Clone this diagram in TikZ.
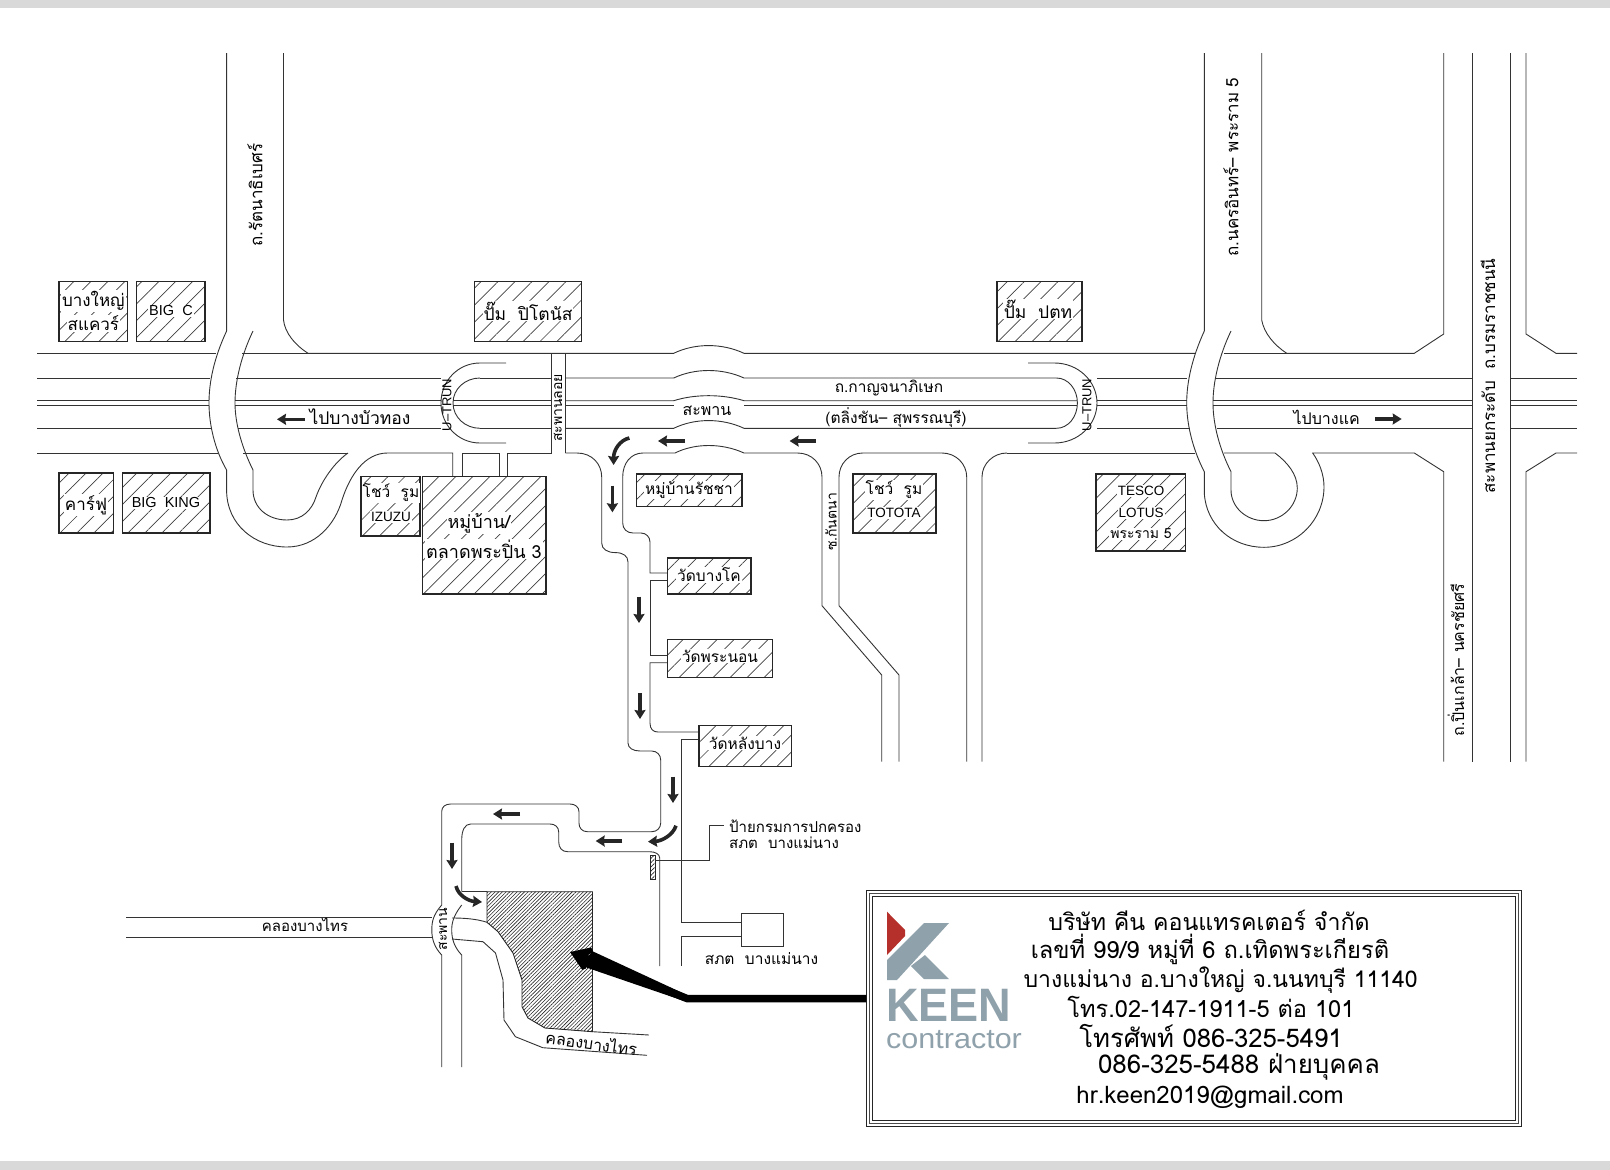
\documentclass[tikz,border=0pt]{standalone}
\usepackage{fontspec}
\usepackage{graphicx}
\setmainfont[Script=Thai]{Loma}
\newfontfamily\latinsans{Liberation Sans}
\usetikzlibrary{arrows.meta,patterns.meta}
\definecolor{keengray}{HTML}{8FA1AB}
\definecolor{keenred}{HTML}{B5302A}
\tikzset{
	road/.style={draw=black!80, line width=0.9pt},
	hatchbox/.style={draw=black!85, line width=1.1pt, pattern={Lines[angle=45,distance=12pt,line width=0.7pt]}, pattern color=black!75},
	sitelabel/.style={fill=white, inner sep=1pt, align=center, font=\fontsize{15.5}{18}\selectfont},
	latinlabel/.style={fill=white, inner sep=1pt, font=\latinsans\fontsize{14.5}{17}\selectfont},
	roadlabel/.style={inner sep=0pt, font=\fontsize{16}{20}\selectfont},
	smalllabel/.style={inner sep=0pt, font=\fontsize{14}{17}\selectfont},
	flowarrow/.style={-{Stealth[length=9pt,width=11pt,inset=1pt]}, line width=3.6pt, draw=black!85},
	infoline/.style={inner sep=0pt, font=\fontsize{24}{28}\selectfont}
}
\begin{document}
\begin{tikzpicture}[x=1pt,y=-1pt]

	\useasboundingbox (0,0) rectangle (1610,1170);
	\fill[black!15] (0,0) rectangle (1610,8);
	\fill[black!15] (0,1161) rectangle (1610,1170);

	\draw[road] (37,353.3) -- (216,353.3);
	\draw[road] (242,353.3) -- (308,353.3);
	\draw[road] (308,353.3) -- (673.7,353.3) .. controls (695,343) and (722,343) .. (744,353.3) -- (1195,353.3);
	\draw[road] (1224,353.3) -- (1286.7,353.3);
	\draw[road] (1286.7,353.3) -- (1414.3,353.3) -- (1443.7,334) -- (1443.7,53);
	\draw[road] (1577,353.3) -- (1556,353.3) -- (1526,334) -- (1526,53);

	\draw[road] (37,378) -- (209.5,378);
	\draw[road] (236,378) -- (441,378);
	\draw[road] (480,378) -- (551.6,378);
	\draw[road] (565.4,378) -- (673.7,378) .. controls (695,368) and (722,368) .. (744,378) -- (1056.5,378);
	\draw[road] (1097,378) -- (1187,378);
	\draw[road] (1215,378) -- (1472.7,378);
	\draw[road] (1510,378) -- (1577,378);

	\draw[road] (37,400.7) -- (209,400.7);
	\draw[road] (235,400.7) -- (441,400.7);
	\draw[road] (453,400.7) -- (551.6,400.7);
	\draw[road] (565.4,400.7) -- (673.7,400.7) .. controls (695,394) and (722,394) .. (744,400.7) -- (1077,400.7);
	\draw[road] (1097,400.7) -- (1186.7,400.7);
	\draw[road] (1213,400.7) -- (1472.7,400.7);
	\draw[road] (1510,400.7) -- (1577,400.7);

	\draw[road] (37,405.7) -- (209,405.7);
	\draw[road] (235,405.7) -- (441,405.7);
	\draw[road] (453,405.7) -- (551.6,405.7);
	\draw[road] (565.4,405.7) -- (673.7,405.7);
	\draw[road] (744,405.7) -- (1077,405.7);
	\draw[road] (1097,405.7) -- (1186.7,405.7);
	\draw[road] (1213,405.7) -- (1472.7,405.7);
	\draw[road] (1510,405.7) -- (1577,405.7);

	\draw[road] (37,428.3) -- (211,428.3);
	\draw[road] (238,428.3) -- (441,428.3);
	\draw[road] (480,428.3) -- (551.6,428.3);
	\draw[road] (565.4,428.3) -- (673.7,428.3) .. controls (695,418) and (722,418) .. (744,428.3) -- (1056.5,428.3);
	\draw[road] (1097,428.3) -- (1190,428.3);
	\draw[road] (1217,428.3) -- (1472.7,428.3);
	\draw[road] (1510,428.3) -- (1577,428.3);

	\draw[road] (37,453) -- (218,453);
	\draw[road] (243,453) -- (348,453);
	\draw[road] (507,476.7) -- (507,453) -- (551.6,453);
	\draw[road] (462,476.7) -- (462,453) -- (499,453) -- (499,476.7);
	\draw[road] (551.6,353.3) -- (551.6,453);
	\draw[road] (565.4,353.3) -- (565.4,453);

	\draw[road] (226.6,53) -- (226.6,331) .. controls (214,358) and (209,382) .. (209,403) .. controls (209,425) and (215,450) .. (226.6,470) -- (226.6,490) .. controls (226.6,525) and (255,547) .. (287,547) .. controls (315,547) and (335,525) .. (342,500) .. controls (350,475) and (365,453) .. (387.5,453) -- (452.7,453) -- (452.7,476.7);
	\draw[road] (253,331) .. controls (241,356) and (235,382) .. (235,403) .. controls (235,425) and (243,450) .. (253,470) -- (253,490) .. controls (253,508) and (268,520) .. (287,520) .. controls (302,520) and (312,510) .. (316,497) .. controls (322,480) and (335,462) .. (348,453);
	\draw[road] (283.5,53) -- (283.5,320) .. controls (285,333) and (295,345) .. (308,353.3);

	\draw[road] (506,363) -- (480,363) .. controls (458,363) and (441,381) .. (441,403) .. controls (441,425) and (458,443) .. (480,443) -- (506,443);
	\draw[road] (480,378) .. controls (465,378) and (453,389) .. (453,403) .. controls (453,417) and (465,428.3) .. (480,428.3);
	\draw[road] (1028,363) -- (1054.5,363) .. controls (1078,363) and (1097,381) .. (1097,403) .. controls (1097,425) and (1078,443) .. (1054.5,443) -- (1028,443);
	\draw[road] (1056.5,378) .. controls (1068,378) and (1077.4,389) .. (1077.4,403) .. controls (1077.4,417) and (1068,428.3) .. (1056.5,428.3);

	\draw[road] (1204.3,53) -- (1204.3,331) .. controls (1192,358) and (1186.7,382) .. (1186.7,403) .. controls (1186.7,425) and (1193,450) .. (1204.3,471.7) -- (1204.3,493) .. controls (1206,525) and (1232,547.3) .. (1264,547.3) .. controls (1297,547.3) and (1324,520) .. (1324,486.7) .. controls (1324,474) and (1319,462) .. (1312.7,453) -- (1414.3,453) -- (1443.7,471.7) -- (1443.7,761.7);
	\draw[road] (1231,331) .. controls (1219,356) and (1213,382) .. (1213,403) .. controls (1213,425) and (1220,450) .. (1231,471.7) -- (1231,490) .. controls (1231,507) and (1246,520.7) .. (1264,520.7) .. controls (1282,520.7) and (1297.3,506) .. (1297.3,488) .. controls (1297.3,474) and (1287,462) .. (1275,453) -- (1224,453);
	\draw[road] (1261.7,53) -- (1261.7,320) .. controls (1264,333) and (1274,345) .. (1286.7,353.3);
	\draw[road] (1007,453) -- (1195,453);
	\draw[road] (1472.7,53) -- (1472.7,761.7);
	\draw[road] (1510,53) -- (1510,761.7);
	\draw[road] (1577,453) -- (1556,453) -- (1526,471.7) -- (1526,761.7);

	\draw[road] (565.4,453) -- (577,453) .. controls (592,453) and (601.7,464) .. (601.7,477) -- (601.7,543) .. controls (601.7,549) and (607,552.6) .. (615.6,552.6) .. controls (623,552.6) and (628,556) .. (628,562) -- (628,743) .. controls (628,748) and (633,751) .. (640,751) -- (651.7,751) .. controls (657,751) and (660.7,755) .. (660.7,760) -- (660.7,823) .. controls (660.7,828) and (657,831.7) .. (651.7,831.7) -- (587.5,831.7) .. controls (582,831.7) and (579,828) .. (579,823) -- (579,811.7) .. controls (579,807) and (575,804) .. (570,804) -- (450.7,804) .. controls (445,804) and (441.7,807) .. (441.7,811.7) -- (441.7,905);
	\draw[road] (622.7,477) .. controls (622.7,463) and (631,453) .. (643,453) -- (675,453) .. controls (695,443) and (722,443) .. (744,453) -- (797.5,453) .. controls (812,453) and (822,464) .. (822,477) -- (822,605.7) -- (881.7,675) -- (881.7,761.7);
	\draw[road] (622.7,477) -- (622.7,523) .. controls (622.7,529) and (627,533) .. (633,533) -- (641,533) .. controls (646,533) and (650,537) .. (650,542) -- (650,573) -- (667.8,573);
	\draw[road] (667.8,580.7) -- (650,580.7) -- (650,655.7) -- (667.8,655.7);
	\draw[road] (667.8,662.7) -- (650,662.7) -- (650,723) .. controls (650,729) and (653,732) .. (658,732) -- (699,732);
	\draw[road] (699,739) -- (681.7,739) -- (681.7,922.7) -- (741,922.7);
	\draw[road] (741,936) -- (681.7,936) -- (681.7,966);
	\draw[road] (839,605.7) -- (839,477) .. controls (839,464) and (849,453) .. (862.7,453) -- (942,453) .. controls (956,453) and (966.7,464) .. (966.7,477) -- (966.7,761.7);
	\draw[road] (839,605.7) -- (899,675) -- (899,761.7);
	\draw[road] (982,761.7) -- (982,477) .. controls (982,464) and (993,453) .. (1007,453);

	\draw[road] (461.7,891.7) -- (461.7,840) .. controls (461.7,830) and (465,824) .. (470.6,824) -- (550,824) .. controls (555,824) and (558.7,827) .. (558.7,832) -- (558.7,841.7) .. controls (558.7,848) and (562,851.7) .. (567.7,851.7) -- (649.7,851.7) .. controls (655,851.7) and (659.7,854) .. (659.7,858) -- (659.7,966);
	\draw[road] (461.7,891.7) -- (487,891.7);
	\draw[road] (441.7,905) .. controls (433,915) and (431.8,922) .. (431.8,930) .. controls (431.8,940) and (435,948) .. (441.7,955) -- (441.7,1067);
	\draw[road] (461.7,905) .. controls (454,915) and (451.7,922) .. (451.7,930) .. controls (451.7,940) and (455,948) .. (461.7,955) -- (461.7,1067);
	\draw[road] (126,917.3) -- (431.8,917.3);
	\draw[road] (126,937.7) -- (431.8,937.7);
	\draw[road] (452,918) .. controls (465,918) and (477,919) .. (487,922.3);
	\draw[road] (452,939) -- (483,941.7) -- (495.5,953) -- (503,980) -- (504,1020) -- (515.4,1036.7) -- (542.8,1047.7) -- (647,1055.3);
	\draw[road] (592.5,1031.7) -- (648.8,1035);

	\draw[draw=black!85, line width=0.9pt, pattern={Lines[angle=45,distance=2.6pt,line width=0.6pt]}, pattern color=black!85] (487,891.7) -- (592.5,891.7) -- (592.5,1031.7) -- (545,1028) -- (528,1018) -- (522,1006.7) -- (522,980) -- (513,953) -- (498,931.7) -- (487,922.3) -- cycle;

	\draw[hatchbox] (59,281.7) rectangle (127.7,341.7);
	\draw[hatchbox] (136.8,281.7) rectangle (205,341.7);
	\draw[hatchbox] (474.5,281.7) rectangle (581.6,341.7);
	\draw[hatchbox] (997,281.7) rectangle (1082,341.7);
	\draw[hatchbox] (59,473) rectangle (113.5,533);
	\draw[hatchbox] (122.6,473) rectangle (210,533);
	\draw[hatchbox] (361,476.7) rectangle (420,536);
	\draw[hatchbox] (422.3,476.7) rectangle (546,594);
	\draw[hatchbox] (636.5,474) rectangle (742,506.7);
	\draw[hatchbox] (853,474) rectangle (936,533);
	\draw[hatchbox] (1096,474) rectangle (1185.8,551);
	\draw[hatchbox] (667.8,558) rectangle (751,594);
	\draw[hatchbox] (667.8,639.3) rectangle (772.3,677.3);
	\draw[hatchbox] (699,725.7) rectangle (791.7,766.7);
	\draw[draw=black!85, pattern={Lines[angle=45,distance=3pt,line width=0.6pt]}, pattern color=black!85] (650,855) rectangle (654.7,879);
	\draw[road] (741,913) rectangle (783,946);

	\node[sitelabel, font=\fontsize{17}{20}\selectfont] (bangyaia) at (93.4,301) {บางใหญ่};
	\node[sitelabel, font=\fontsize{17}{20}\selectfont] (bangyaib) at (93.4,323) {สแควร์};
	\node[latinlabel] (bigc) at (171,311) {BIG\ \ C};
	\node[sitelabel, font=\fontsize{17.5}{20}\selectfont] (ptlabel) at (528,311) {ปั๊ม\ \ ปิโตนัส};
	\node[sitelabel, font=\fontsize{17.5}{20}\selectfont] (pttlabel) at (1038,309) {ปั๊ม\ \ ปตท};
	\node[sitelabel, font=\fontsize{17}{20}\selectfont] (carrefour) at (86,505) {คาร์ฟู};
	\node[latinlabel] (bigking) at (166,503) {BIG\ \ KING};
	\node[sitelabel] (izuzua) at (391,493) {โชว์\ \ รูม};
	\node[latinlabel, font=\latinsans\fontsize{13.5}{16}\selectfont] (izuzub) at (391,517) {IZUZU};
	\node[sitelabel, font=\fontsize{18}{20}\selectfont] (marketa) at (479,523) {หมู่บ้าน/};
	\node[sitelabel, font=\fontsize{18}{20}\selectfont] (marketb) at (484,549) {ตลาดพระปิ่น 3};
	\node[sitelabel] (ratcha) at (689,490) {หมู่บ้านรัชชา};
	\node[sitelabel] (tototaa) at (894,490) {โชว์\ \ รูม};
	\node[latinlabel, font=\latinsans\fontsize{13.5}{16}\selectfont] (tototab) at (894,513) {TOTOTA};
	\node[latinlabel, font=\latinsans\fontsize{13.5}{16}\selectfont] (tescoa) at (1141,491) {TESCO};
	\node[latinlabel, font=\latinsans\fontsize{13.5}{16}\selectfont] (tescob) at (1141,513) {LOTUS};
	\node[sitelabel, font=\fontsize{14}{16}\selectfont] (tescoc) at (1141,534) {พระราม 5};
	\node[sitelabel] (watbangko) at (709,575) {วัดบางโค};
	\node[sitelabel] (watphranon) at (720,656) {วัดพระนอน};
	\node[sitelabel] (watlang) at (745,743) {วัดหลังบาง};

	\node[roadlabel, rotate=90, font=\fontsize{17}{20}\selectfont] (rattana) at (255,195) {ถ.รัตนาธิเบศร์};
	\node[roadlabel, rotate=90, font=\fontsize{17}{20}\selectfont] (nakhonin) at (1231,167) {ถ.นครอินทร์– พระราม 5};
	\node[roadlabel, rotate=90, font=\fontsize{17}{20}\selectfont] (borom) at (1488,376) {สะพานยกระดับ\ \ ถ.บรมราชชนนี};
	\node[roadlabel, rotate=90] (pinklao) at (1456,660) {ถ.ปิ่นเกล้า– นครชัยศรี};
	\node[smalllabel, rotate=90] (kantana) at (831,522) {ซ.กันตนา};
	\node[smalllabel, rotate=90] (footbridge) at (558,408) {สะพานลอย};
	\node[smalllabel, rotate=90] (bridgelow) at (443,929) {สะพาน};
	\node[smalllabel, rotate=90, font=\latinsans\fontsize{13}{16}\selectfont] (uturnleft) at (447,405) {U–TRUN};
	\node[smalllabel, rotate=90, font=\latinsans\fontsize{13}{16}\selectfont] (uturnright) at (1087,405) {U–TRUN};

	\node[roadlabel, font=\fontsize{17.5}{20}\selectfont] (tobuathong) at (360,416.5) {ไปบางบัวทอง};
	\node[roadlabel] (tobangkhae) at (1326.7,417) {ไปบางแค};
	\node[roadlabel, font=\fontsize{15.5}{20}\selectfont] (kanchana) at (889,388) {ถ.กาญจนาภิเษก};
	\node[roadlabel] (bridgeup) at (707,410.7) {สะพาน};
	\node[roadlabel, font=\fontsize{15.5}{20}\selectfont] (taling) at (896,418) {(ตลิ่งชัน– สุพรรณบุรี)};

	\node[smalllabel, font=\fontsize{15}{17}\selectfont, anchor=west] (signa) at (729,826.7) {ป้ายกรมการปกครอง};
	\node[smalllabel, font=\fontsize{15}{17}\selectfont, anchor=west] (signb) at (729,843) {สภต\ \ บางแม่นาง};
	\node[smalllabel, font=\fontsize{15.5}{17}\selectfont] (policelabel) at (761.5,959) {สภต\ \ บางแม่นาง};
	\node[smalllabel, font=\fontsize{15}{17}\selectfont] (canalleft) at (305,925) {คลองบางไทร};
	\node[smalllabel, rotate=-8, font=\fontsize{16}{17}\selectfont] (canalright) at (591.5,1042.7) {คลองบางไทร};
	\coordinate (signpost) at (654.7,860);
	\coordinate (signdash) at (724,825);
	\draw[road] (signpost) -- (709.4,860) -- (709.4,825) -- (signdash);

	\draw[flowarrow] (304.5,419.3) -- (277,419.3);
	\draw[flowarrow] (1375,419) -- (1401.7,419);
	\draw[flowarrow] (685,441) -- (658,441);
	\draw[flowarrow] (816,441) -- (789.6,441);
	\draw[flowarrow] (629.4,438) .. controls (620,440) and (613.6,450) .. (613.6,465);
	\draw[flowarrow] (612.4,485.7) -- (612.4,512.3);
	\draw[flowarrow] (639,596.7) -- (639,623);
	\draw[flowarrow] (640,693) -- (640,719);
	\draw[flowarrow] (673,776.7) -- (673,803);
	\draw[flowarrow] (676,825.7) .. controls (673,835) and (662,841) .. (648,841.7);
	\draw[flowarrow] (622.3,841) -- (595.7,841);
	\draw[flowarrow] (520,814) -- (493,814);
	\draw[flowarrow] (452,842.7) -- (452,869);
	\draw[flowarrow] (456,886) .. controls (458,895) and (468,901) .. (482,902);

	\node[draw=black!85, line width=1pt, fill=white, minimum width=654.6pt, minimum height=236pt, inner sep=0pt] (infobox) at (1193.7,1008.7) {};
	\draw[black!70, line width=1pt] (869.5,893.8) rectangle (1518,1123.6);
	\draw[black!85, line width=1pt] (872.5,896.8) rectangle (1515,1120.6);

	\fill[keenred] (887,911.7) -- (905,930) -- (905,936) -- (887,955) -- cycle;
	\fill[keengray] (924,923) -- (949,923) -- (897,980) -- (887,980) -- (887,960) -- cycle;
	\fill[keengray] (925,955) -- (949,979) -- (924,979) -- (911,966) -- cycle;
	\node[inner sep=0pt, anchor=base west] (keenword) at (886,1021) {\scalebox{0.98}[1.02]{\latinsans\bfseries\color{keengray}\fontsize{46}{46}\selectfont KEEN}};
	\node[inner sep=0pt, anchor=base west] (contractorword) at (886,1048) {\scalebox{1.09}[1]{\latinsans\color{keengray}\fontsize{28}{28}\selectfont contractor}};

	\node[infoline, font=\fontsize{23.2}{28}\selectfont] (infoa) at (1209,920) {บริษัท คีน คอนแทรคเตอร์ จำกัด};
	\node[infoline, font=\fontsize{23.7}{28}\selectfont] (infob) at (1210,949.7) {เลขที่ 99/9 หมู่ที่ 6 ถ.เทิดพระเกียรติ};
	\node[infoline, font=\fontsize{23}{28}\selectfont] (infoc) at (1220.6,980) {บางแม่นาง อ.บางใหญ่ จ.นนทบุรี 11140};
	\node[infoline, font=\fontsize{23.6}{28}\selectfont] (infod) at (1211,1007) {โทร.02-147-1911-5 ต่อ 101};
	\node[infoline, font=\fontsize{25.7}{28}\selectfont] (infoe) at (1211,1036) {โทรศัพท์ 086-325-5491};
	\node[infoline, font=\fontsize{25.9}{28}\selectfont] (infof) at (1239,1067) {086-325-5488 ฝ่ายบุคคล};
	\node[infoline] (infog) at (1210,1097) {hr.keen2019@gmail.com};

	\coordinate (bigstart) at (866.4,998.5);
	\coordinate (bigbend) at (687,998.5);
	\coordinate (bigtip) at (570,952);
	\fill (687,995) -- (592,951) -- (582,966) -- (687,1002) -- cycle;
	\draw[line width=7.5pt, -{Stealth[length=24pt,width=32pt]}, miter limit=2] (bigstart) -- (bigbend) -- (bigtip);

\end{tikzpicture}
\end{document}
